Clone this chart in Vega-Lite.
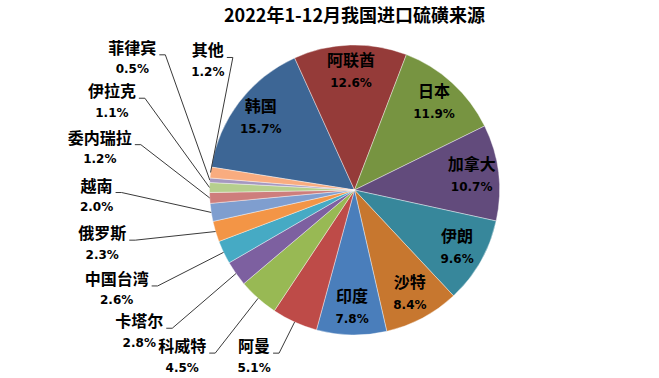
{
  "$schema": "https://vega.github.io/schema/vega-lite/v6.json",
  "width": 609,
  "height": 316,
  "autosize": {"type": "none"},
  "padding": {"left": 50, "top": 32, "right": 0, "bottom": 30},
  "background": "#ffffff",
  "config": {"view": {"stroke": null}},
  "title": {
    "text": "2022年1-12月我国进口硫磺来源",
    "font": "Noto Sans CJK SC",
    "fontSize": 18,
    "fontWeight": "bold",
    "color": "#000000",
    "anchor": "middle",
    "offset": 6
  },
  "data": {
    "values": [
      {"order": 1, "country": "韩国", "share": 0.157},
      {"order": 2, "country": "阿联酋", "share": 0.126},
      {"order": 3, "country": "日本", "share": 0.119},
      {"order": 4, "country": "加拿大", "share": 0.107},
      {"order": 5, "country": "伊朗", "share": 0.096},
      {"order": 6, "country": "沙特", "share": 0.084},
      {"order": 7, "country": "印度", "share": 0.078},
      {"order": 8, "country": "阿曼", "share": 0.051},
      {"order": 9, "country": "科威特", "share": 0.045},
      {"order": 10, "country": "卡塔尔", "share": 0.028},
      {"order": 11, "country": "中国台湾", "share": 0.026},
      {"order": 12, "country": "俄罗斯", "share": 0.023},
      {"order": 13, "country": "越南", "share": 0.020},
      {"order": 14, "country": "委内瑞拉", "share": 0.012},
      {"order": 15, "country": "伊拉克", "share": 0.011},
      {"order": 16, "country": "菲律宾", "share": 0.005},
      {"order": 17, "country": "其他", "share": 0.012}
    ]
  },
  "transform": [
    {"window": [{"op": "sum", "field": "share", "as": "cum"}], "sort": [{"field": "order", "order": "ascending"}], "frame": [null, 0]},
    {"calculate": "-1.412 + 2*PI*(datum.cum - datum.share/2)", "as": "a"},
    {"calculate": "145*sin(datum.a)", "as": "sx"},
    {"calculate": "145*cos(datum.a)", "as": "sy"},
    {"calculate": "datum.order - 8", "as": "k"},
    {"calculate": "(datum.k == 0 ? 211 : 215.2 + 10.67*datum.k)*PI/180", "as": "b"},
    {"calculate": "datum.k == 0 ? 195 : datum.k == 1 ? 240 : datum.k == 9 ? 195 : 258", "as": "R"},
    {"calculate": "datum.R*sin(datum.b)", "as": "lx"},
    {"calculate": "datum.R*cos(datum.b)", "as": "ly"},
    {"calculate": "datum.lx + 8*length(datum.country) + 3", "as": "ex"},
    {"calculate": "datum.ly + 4", "as": "ey"},
    {"calculate": "datum.ex + 6", "as": "px"}
  ],
  "layer": [
    {
      "mark": {"type": "arc", "radius": 145, "stroke": "#ffffff", "strokeWidth": 0.4},
      "encoding": {
        "theta": {"field": "share", "type": "quantitative", "stack": true, "scale": {"type": "linear", "domain": [0, 1], "range": [-1.412, 4.8712]}},
        "order": {"field": "order", "type": "quantitative", "sort": "ascending"},
        "color": {
          "field": "country",
          "type": "nominal",
          "legend": null,
          "scale": {
            "domain": ["韩国", "阿联酋", "日本", "加拿大", "伊朗", "沙特", "印度", "阿曼", "科威特", "卡塔尔", "中国台湾", "俄罗斯", "越南", "委内瑞拉", "伊拉克", "菲律宾", "其他"],
            "range": ["#3D6695", "#953B39", "#779441", "#624B7C", "#37879B", "#C7772F", "#4A7EBB", "#BE4B48", "#98B954", "#7D60A0", "#46AAC4", "#F39546", "#7F9ECF", "#CE7E7C", "#B6CF8D", "#A598C0", "#F9AC7F"]
          }
        }
      }
    },
    {
      "transform": [{"filter": "datum.order <= 7"}],
      "mark": {"type": "text", "radius": 118, "dy": -11, "font": "Noto Sans CJK SC", "fontSize": 16, "fontWeight": "bold", "color": "#000000"},
      "encoding": {
        "theta": {"field": "share", "type": "quantitative", "stack": true},
        "order": {"field": "order", "type": "quantitative", "sort": "ascending"},
        "text": {"field": "country", "type": "nominal"}
      }
    },
    {
      "transform": [{"filter": "datum.order <= 7"}],
      "mark": {"type": "text", "radius": 118, "dy": 11, "font": "DejaVu Sans", "fontSize": 12, "fontWeight": "bold", "color": "#000000"},
      "encoding": {
        "theta": {"field": "share", "type": "quantitative", "stack": true},
        "order": {"field": "order", "type": "quantitative", "sort": "ascending"},
        "text": {"field": "share", "type": "quantitative", "format": ".1%"}
      }
    },
    {
      "transform": [{"filter": "datum.order >= 8"}],
      "mark": {"type": "rule", "color": "#3a3a3a", "strokeWidth": 1},
      "encoding": {
        "x": {"field": "sx", "type": "quantitative", "scale": {"type": "linear", "domain": [-304.5, 304.5], "nice": false, "zero": false}, "axis": null},
        "y": {"field": "sy", "type": "quantitative", "scale": {"type": "linear", "domain": [-158, 158], "nice": false, "zero": false}, "axis": null},
        "x2": {"field": "px"},
        "y2": {"field": "ey"}
      }
    },
    {
      "transform": [{"filter": "datum.order >= 8"}],
      "mark": {"type": "rule", "color": "#3a3a3a", "strokeWidth": 1},
      "encoding": {
        "x": {"field": "px", "type": "quantitative", "scale": {"type": "linear", "domain": [-304.5, 304.5], "nice": false, "zero": false}, "axis": null},
        "y": {"field": "ey", "type": "quantitative", "scale": {"type": "linear", "domain": [-158, 158], "nice": false, "zero": false}, "axis": null},
        "x2": {"field": "ex"},
        "y2": {"field": "ey"}
      }
    },
    {
      "transform": [{"filter": "datum.order >= 8"}],
      "mark": {"type": "text", "dy": -10, "font": "Noto Sans CJK SC", "fontSize": 16, "fontWeight": "bold", "color": "#000000"},
      "encoding": {
        "x": {"field": "lx", "type": "quantitative", "scale": {"type": "linear", "domain": [-304.5, 304.5], "nice": false, "zero": false}, "axis": null},
        "y": {"field": "ly", "type": "quantitative", "scale": {"type": "linear", "domain": [-158, 158], "nice": false, "zero": false}, "axis": null},
        "text": {"field": "country", "type": "nominal"}
      }
    },
    {
      "transform": [{"filter": "datum.order >= 8"}],
      "mark": {"type": "text", "dy": 10.5, "font": "DejaVu Sans", "fontSize": 12, "fontWeight": "bold", "color": "#000000"},
      "encoding": {
        "x": {"field": "lx", "type": "quantitative", "scale": {"type": "linear", "domain": [-304.5, 304.5], "nice": false, "zero": false}, "axis": null},
        "y": {"field": "ly", "type": "quantitative", "scale": {"type": "linear", "domain": [-158, 158], "nice": false, "zero": false}, "axis": null},
        "text": {"field": "share", "type": "quantitative", "format": ".1%"}
      }
    }
  ]
}
